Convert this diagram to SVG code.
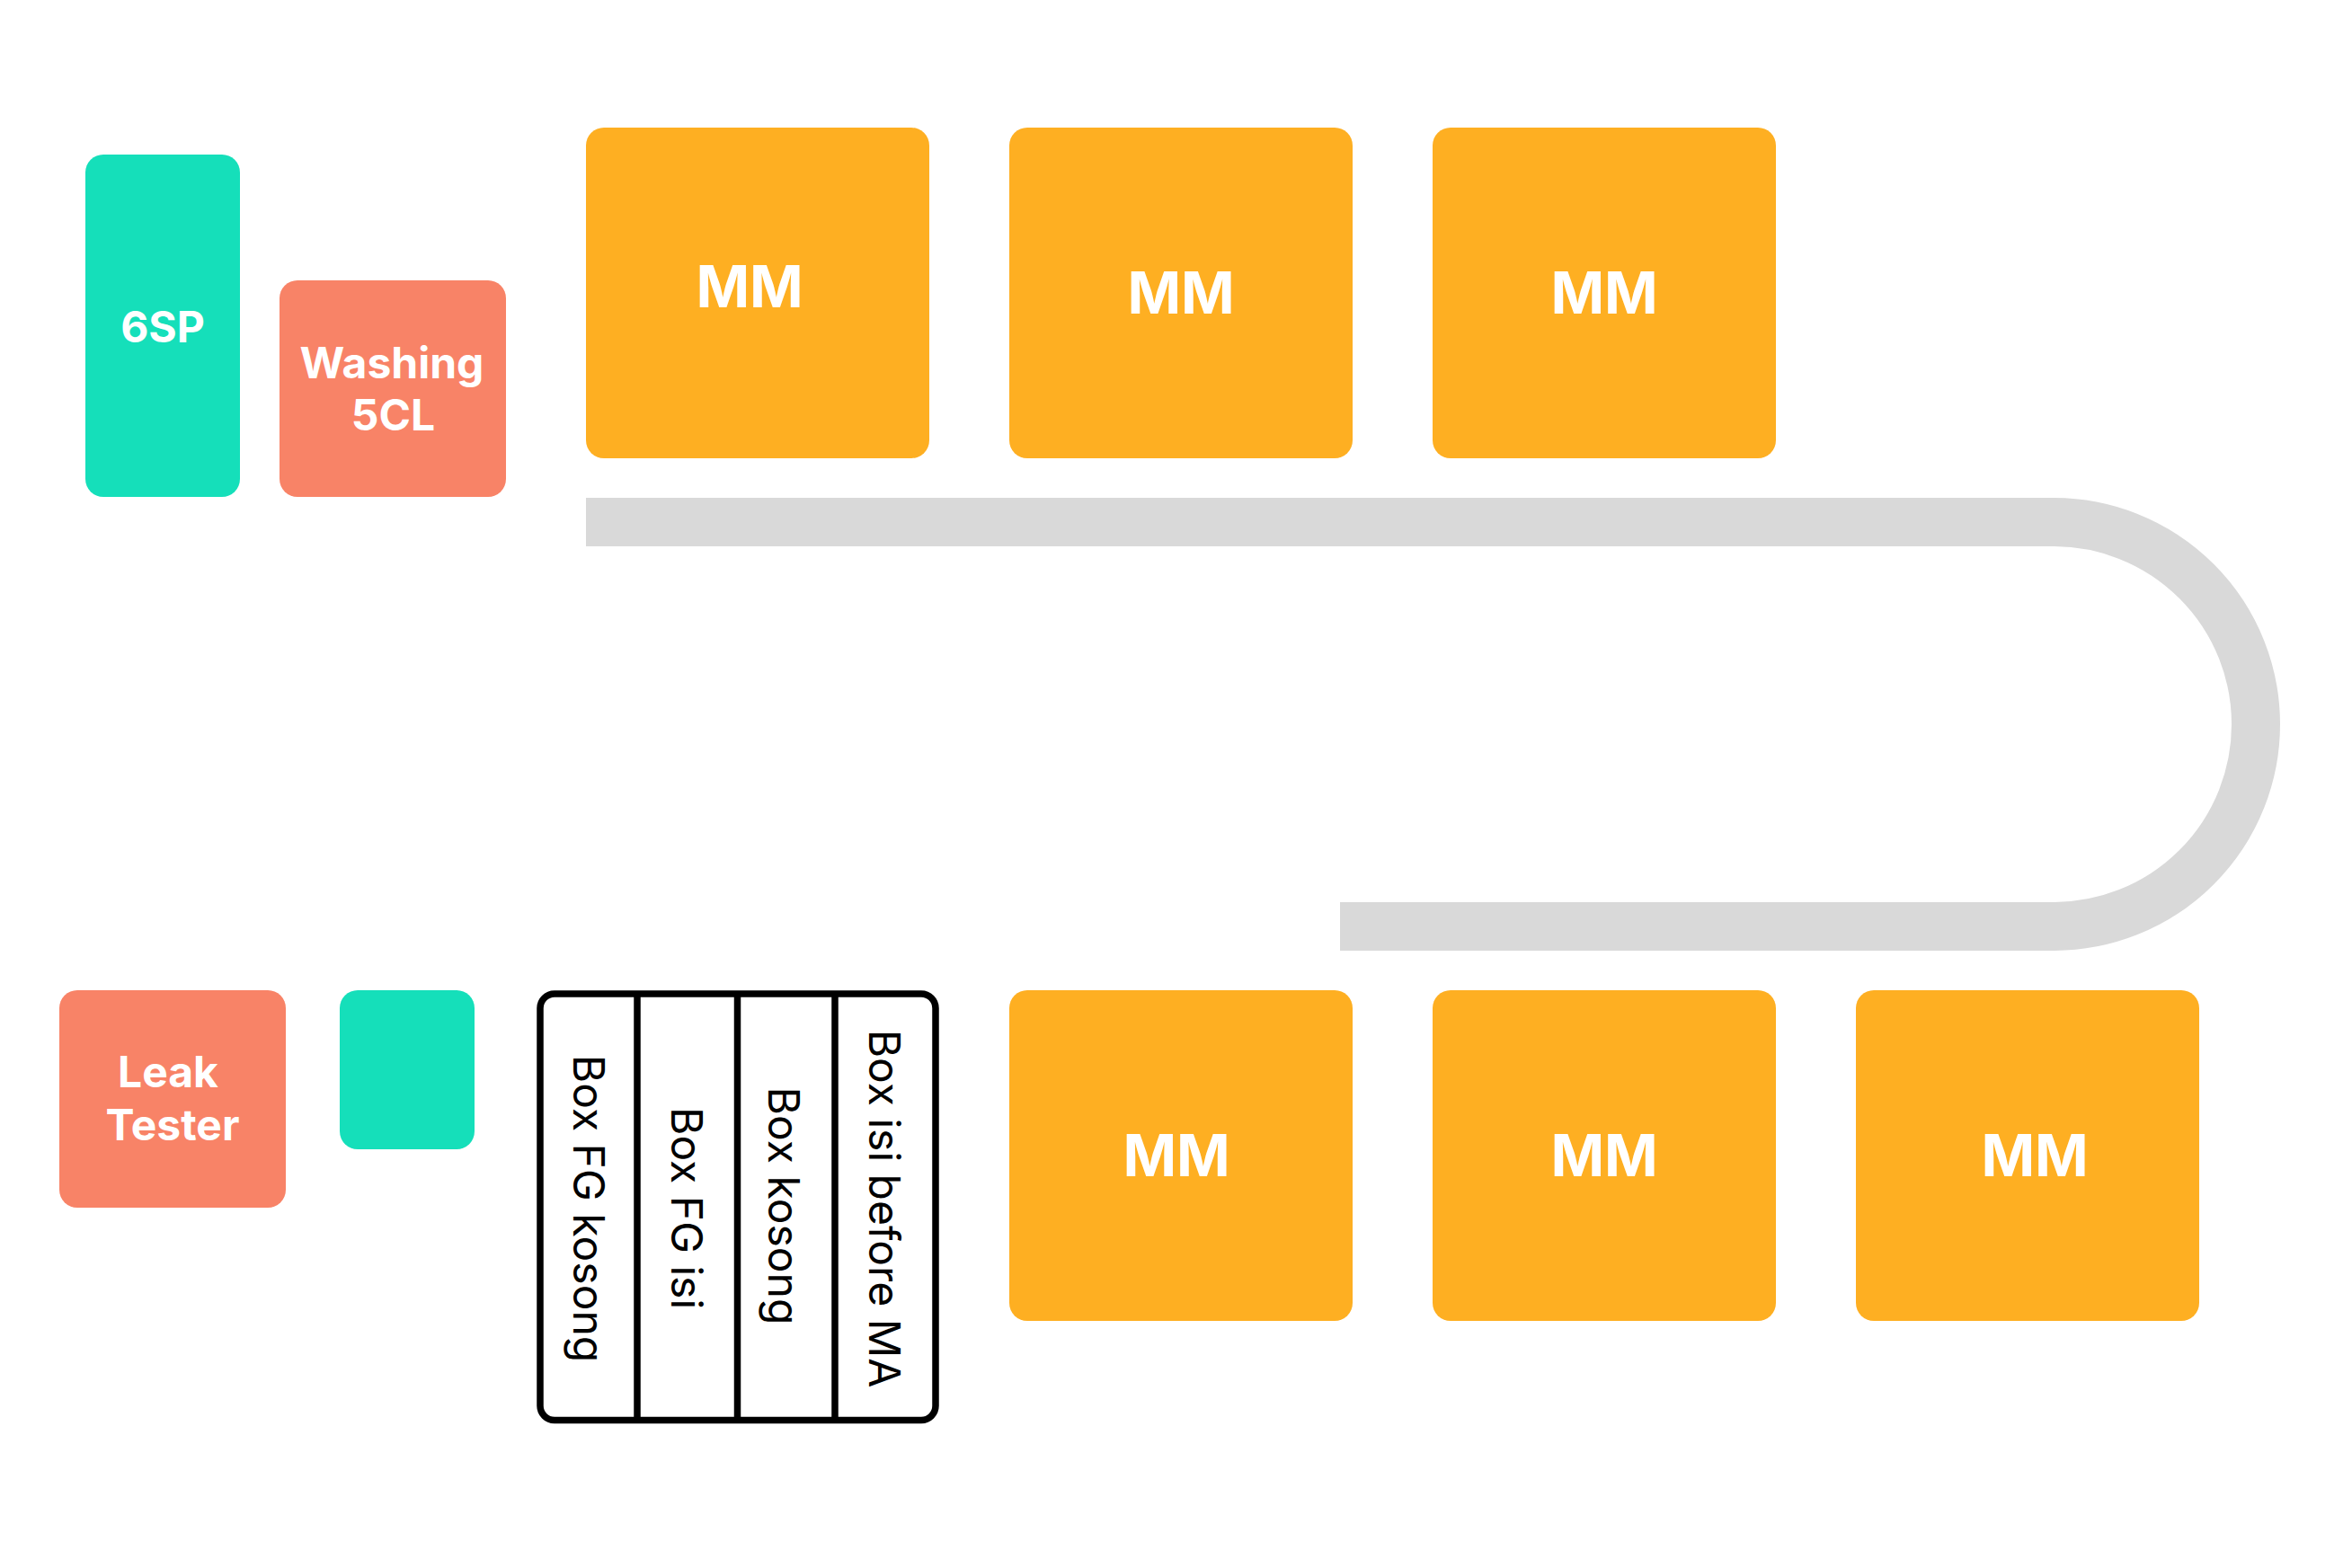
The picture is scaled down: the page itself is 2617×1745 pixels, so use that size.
<svg xmlns="http://www.w3.org/2000/svg" width="2617" height="1745" viewBox="0 0 2617 1745">
  <style>
    .teal { fill: #15DFBA; }
    .salmon { fill: #F88367; }
    .mm { fill: #FEAF22; }
    .lbl { font-family: Inter, "Noto Sans", "Liberation Sans", sans-serif; font-weight: 700; fill: #FFFFFF; text-anchor: middle; }
    .s48 { font-size: 48px; }
    .s64 { font-size: 64px; }
    .rack { fill: none; stroke: #000000; stroke-width: 7.5; }
    .col { font-family: Inter, "Noto Sans", "Liberation Sans", sans-serif; font-weight: 400; font-size: 48px; fill: #000000; text-anchor: middle; }
  </style>
  <rect width="2617" height="1745" fill="#FFFFFF"/>

  <!-- conveyor belt -->
  <g id="connectors">
    <path d="M652 581 H2285 A225 225 0 0 1 2285 1031 H1491" fill="none" stroke="#D9D9D9" stroke-width="54"/>
  </g>

  <g id="node-6sp">
    <rect class="teal" x="95" y="172" width="172" height="381" rx="20"/>
    <text class="lbl s48" x="181" y="381">6SP</text>
  </g>

  <g id="node-washing">
    <rect class="salmon" x="311" y="312" width="252" height="241" rx="20"/>
    <text class="lbl s48" x="436" y="421">Washing</text>
    <text class="lbl s48" x="437.5" y="479">5CL</text>
  </g>

  <g id="node-mm-top-1">
    <rect class="mm" x="652" y="142" width="382" height="368" rx="20"/>
    <text class="lbl s64" x="834" y="342">MM</text>
  </g>
  <g id="node-mm-top-2">
    <rect class="mm" x="1123" y="142" width="382" height="368" rx="20"/>
    <text class="lbl s64" x="1314" y="349">MM</text>
  </g>
  <g id="node-mm-top-3">
    <rect class="mm" x="1594" y="142" width="382" height="368" rx="20"/>
    <text class="lbl s64" x="1785" y="349">MM</text>
  </g>

  <g id="node-leak-tester">
    <rect class="salmon" x="66" y="1102" width="252" height="242" rx="20"/>
    <text class="lbl s48" x="187" y="1210">Leak</text>
    <text class="lbl s48" x="192" y="1269">Tester</text>
  </g>

  <g id="node-teal-small">
    <rect class="teal" x="378" y="1102" width="150" height="177" rx="20"/>
  </g>

  <g id="node-box-rack">
    <rect class="rack" x="601" y="1106" width="440" height="474.5" rx="16"/>
    <line class="rack" x1="709" y1="1106" x2="709" y2="1580.5"/>
    <line class="rack" x1="820.5" y1="1106" x2="820.5" y2="1580.5"/>
    <line class="rack" x1="929" y1="1106" x2="929" y2="1580.5"/>
    <text class="col" transform="translate(638 1345) rotate(90)">Box FG kosong</text>
    <text class="col" transform="translate(747 1344.5) rotate(90)">Box FG isi</text>
    <text class="col" transform="translate(855 1342) rotate(90)">Box kosong</text>
    <text class="col" transform="translate(967 1345) rotate(90)">Box isi before MA</text>
  </g>

  <g id="node-mm-bottom-1">
    <rect class="mm" x="1123" y="1102" width="382" height="368" rx="20"/>
    <text class="lbl s64" x="1309" y="1309">MM</text>
  </g>
  <g id="node-mm-bottom-2">
    <rect class="mm" x="1594" y="1102" width="382" height="368" rx="20"/>
    <text class="lbl s64" x="1785" y="1309">MM</text>
  </g>
  <g id="node-mm-bottom-3">
    <rect class="mm" x="2065" y="1102" width="382" height="368" rx="20"/>
    <text class="lbl s64" x="2264" y="1309">MM</text>
  </g>
</svg>
